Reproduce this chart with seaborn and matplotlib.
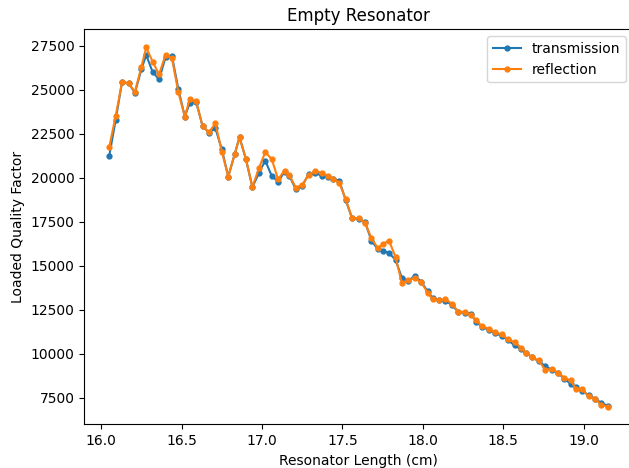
import matplotlib
matplotlib.use("Agg")
import matplotlib.pyplot as plt
import seaborn as sns

# resonator length (cm)
length = [16.05, 16.09, 16.13, 16.17, 16.21, 16.25, 16.28, 16.32, 16.36, 16.40,
          16.44, 16.48, 16.52, 16.55, 16.59, 16.63, 16.67, 16.71, 16.75, 16.79,
          16.83, 16.86, 16.90, 16.94, 16.98, 17.02, 17.06, 17.10, 17.14, 17.17,
          17.21, 17.25, 17.29, 17.33, 17.37, 17.41, 17.44, 17.48, 17.52, 17.56,
          17.60, 17.64, 17.68, 17.72, 17.75, 17.79, 17.83, 17.87, 17.91, 17.95,
          17.99, 18.03, 18.06, 18.10, 18.14, 18.18, 18.22, 18.26, 18.30, 18.33,
          18.37, 18.41, 18.45, 18.49, 18.53, 18.57, 18.61, 18.64, 18.68, 18.72,
          18.76, 18.80, 18.84, 18.88, 18.92, 18.95, 18.99, 19.03, 19.07, 19.11,
          19.15]

q_transmission = [21230, 23280, 25450, 25360, 24830, 26160, 26970, 26000, 25590, 26840,
                  26910, 25020, 23470, 24230, 24320, 22940, 22560, 22810, 21610, 20060,
                  21330, 22300, 21050, 19460, 20250, 20970, 20100, 19770, 20340, 20100,
                  19340, 19530, 20200, 20280, 20110, 20060, 19910, 19830, 18730, 17690,
                  17640, 17500, 16420, 15930, 15850, 15710, 15330, 14290, 14150, 14400,
                  14090, 13530, 13150, 13050, 12990, 12770, 12360, 12330, 12260, 11820,
                  11500, 11350, 11160, 11010, 10770, 10460, 10250, 10030, 9800, 9550,
                  9300, 9080, 8890, 8570, 8270, 8100, 7850, 7660, 7430, 7190,
                  7030]

q_reflection = [21730, 23500, 25420, 25360, 24880, 26300, 27400, 26590, 25870, 26970,
                26780, 24850, 23470, 24450, 24360, 22940, 22570, 23090, 21480, 20060,
                21330, 22300, 21050, 19460, 20530, 21440, 21060, 19910, 20400, 20140,
                19430, 19600, 20150, 20380, 20280, 20100, 19930, 19720, 18770, 17690,
                17690, 17440, 16560, 15990, 16230, 16420, 15480, 13990, 14170, 14290,
                14040, 13470, 13090, 13050, 13090, 12830, 12390, 12360, 12200, 11880,
                11540, 11410, 11200, 11090, 10800, 10650, 10340, 10060, 9780, 9610,
                9080, 9120, 8920, 8610, 8470, 8000, 7980, 7560, 7410, 7090,
                6990]

fig, ax = plt.subplots(figsize=(6.29, 4.68), dpi=100)
sns.lineplot(x=length, y=q_transmission, marker=".", markersize=7, color="#1f77b4",
             markeredgecolor="#1f77b4", markeredgewidth=1, label="transmission", ax=ax)
sns.lineplot(x=length, y=q_reflection, marker=".", markersize=7, color="#ff7f0e",
             markeredgecolor="#ff7f0e", markeredgewidth=1, label="reflection", ax=ax)
ax.set_xlabel("Resonator Length (cm)")
ax.set_ylabel("Loaded Quality Factor")
ax.set_title("Empty Resonator")
ax.legend(loc="upper right")
# the reference is cropped on the right, so the right spine sits just past the edge
fig.subplots_adjust(left=0.134, right=1.006, top=0.937, bottom=0.093)
fig.savefig("out.png", dpi=100)
